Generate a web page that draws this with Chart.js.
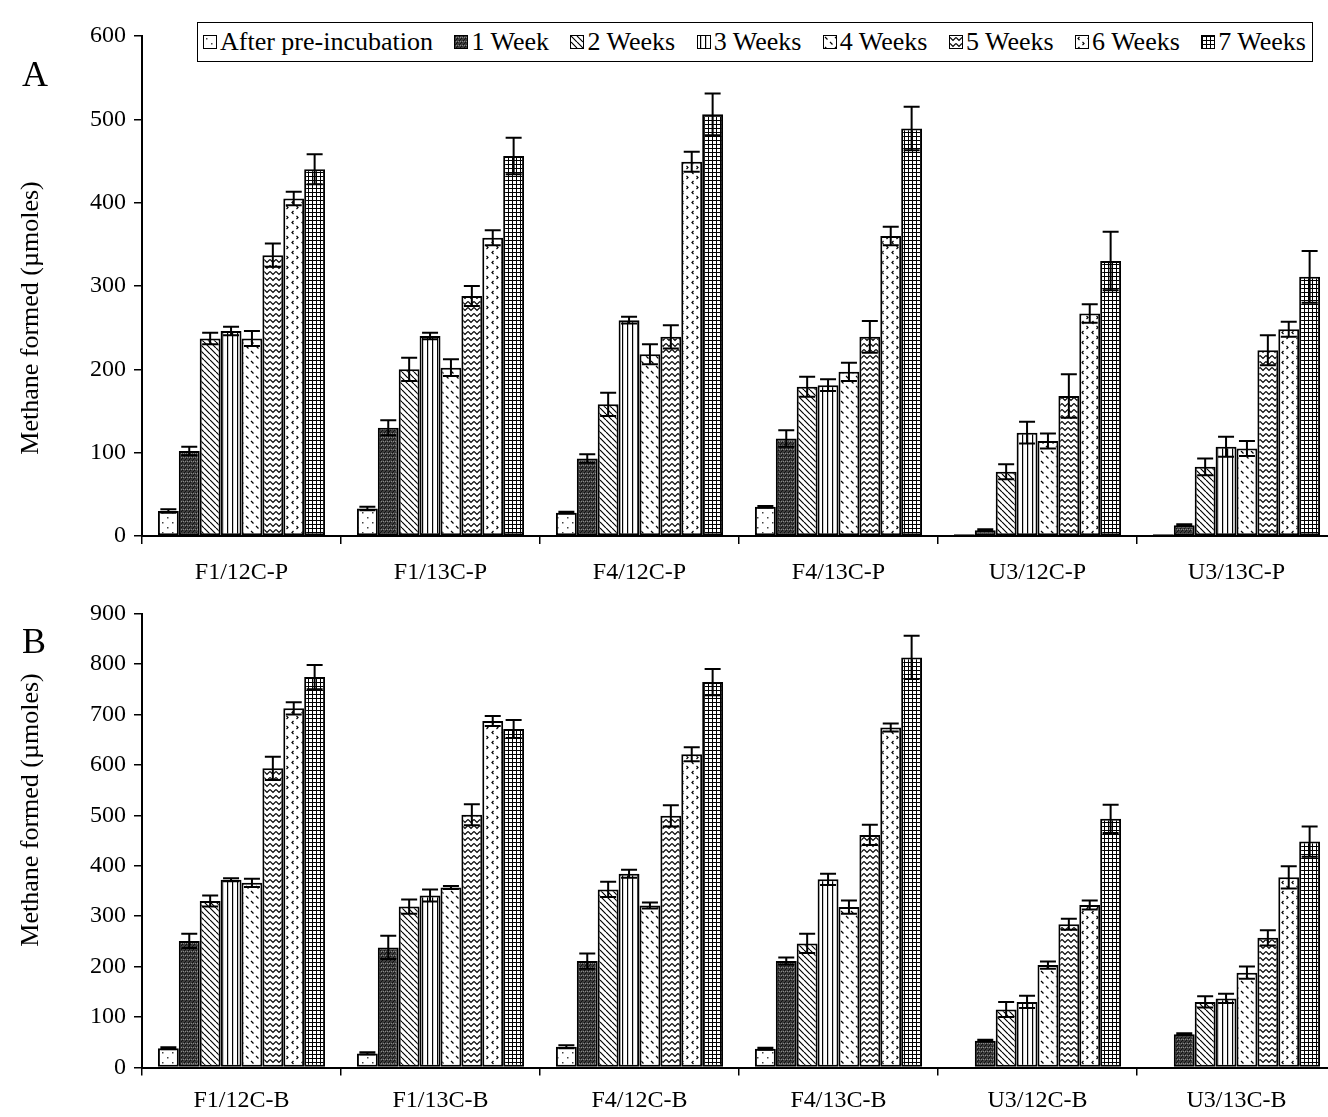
<!DOCTYPE html>
<html><head><meta charset="utf-8">
<script src="https://cdn.jsdelivr.net/npm/chart.js@4.4.1/dist/chart.umd.min.js"></script>
<style>
html,body{margin:0;padding:0;background:#fff;overflow:hidden;width:1328px;height:1117px;}
#wrap{position:relative;width:1328px;height:1117px;overflow:hidden;}
#cA,#cB{position:absolute;left:0;}
#cA{top:0}
#cB{top:590px}
.panel{position:absolute;font-family:"Liberation Serif","Times New Roman",serif;font-size:36px;line-height:1;}
.ytitle{position:absolute;font-family:"Liberation Serif","Times New Roman",serif;font-size:26px;line-height:1;white-space:nowrap;transform:translate(-50%,-50%) rotate(-90deg);}
#legend{position:absolute;left:197px;top:22px;width:1116px;height:40px;box-sizing:border-box;border:1.5px solid #000;background:#fff;display:flex;align-items:center;justify-content:space-between;padding:0 6px 0 5px;font-family:"Liberation Serif","Times New Roman",serif;font-size:26px;white-space:nowrap;z-index:2}
.item{display:flex;align-items:center;}
.item canvas{border:1.5px solid #000;margin-right:3px;}
</style></head><body>
<div id="wrap">
<canvas id="cA" width="1340" height="600"></canvas>
<canvas id="cB" width="1340" height="527"></canvas>
<div class="panel" style="left:22px;top:56px">A</div>
<div class="panel" style="left:22px;top:623px">B</div>
<div class="ytitle" id="tA" style="left:30px;top:318px"></div>
<div class="ytitle" id="tB" style="left:30px;top:810px"></div>
<div id="legend"></div>
</div>
<script>
// ---- data ----
const seriesLabels = ["After pre-incubation","1 Week","2 Weeks","3 Weeks","4 Weeks","5 Weeks","6 Weeks","7 Weeks"];
const categoriesA = ["F1/12C-P","F1/13C-P","F4/12C-P","F4/13C-P","U3/12C-P","U3/13C-P"];
const categoriesB = ["F1/12C-B","F1/13C-B","F4/12C-B","F4/13C-B","U3/12C-B","U3/13C-B"];
const yTitle = "Methane formed (µmoles)";
const yTicksA = {min:0, max:600, step:100};
const yTicksB = {min:0, max:900, step:100};

// Panel A values and errors
const A_afterPre = [30, 33, 28, 35, 2, 2];
const A_week1    = [102, 130, 93, 117, 7, 13];
const A_week2    = [237, 200, 158, 179, 77, 83];
const A_week3    = [246, 240, 259, 181, 124, 107];
const A_week4    = [237, 202, 218, 197, 114, 105];
const A_week5    = [337, 288, 239, 239, 168, 223];
const A_week6    = [405, 358, 449, 360, 267, 248];
const A_week7    = [440, 456, 506, 489, 330, 311];
const A_err_afterPre = [2, 2, 1, 1, 0, 0];
const A_err_week1    = [5, 9, 5, 10, 1, 1];
const A_err_week2    = [7, 14, 14, 12, 9, 10];
const A_err_week3    = [5, 4, 4, 7, 13, 12];
const A_err_week4    = [9, 10, 12, 11, 9, 9];
const A_err_week5    = [14, 12, 14, 19, 26, 18];
const A_err_week6    = [8, 9, 12, 11, 11, 9];
const A_err_week7    = [18, 22, 25, 26, 35, 31];

// Panel B values and errors
const B_afterPre = [38, 28, 41, 37, 0, 0];
const B_week1    = [251, 238, 211, 211, 53, 66];
const B_week2    = [330, 319, 353, 246, 115, 130];
const B_week3    = [372, 341, 384, 373, 130, 137];
const B_week4    = [366, 357, 321, 318, 203, 188];
const B_week5    = [593, 501, 499, 461, 284, 257];
const B_week6    = [712, 687, 621, 674, 322, 377];
const B_week7    = [774, 671, 764, 813, 493, 448];
const B_err_afterPre = [2, 2, 3, 2, 0, 0];
const B_err_week1    = [14, 23, 15, 7, 2, 2];
const B_err_week2    = [11, 14, 15, 19, 15, 11];
const B_err_week3    = [3, 12, 8, 11, 12, 9];
const B_err_week4    = [8, 3, 6, 13, 7, 12];
const B_err_week5    = [23, 21, 21, 20, 11, 15];
const B_err_week6    = [12, 10, 14, 8, 9, 22];
const B_err_week7    = [24, 18, 26, 43, 28, 30];

const seriesA = [A_afterPre,A_week1,A_week2,A_week3,A_week4,A_week5,A_week6,A_week7];
const errorsA = [A_err_afterPre,A_err_week1,A_err_week2,A_err_week3,A_err_week4,A_err_week5,A_err_week6,A_err_week7];
const seriesB = [B_afterPre,B_week1,B_week2,B_week3,B_week4,B_week5,B_week6,B_week7];
const errorsB = [B_err_afterPre,B_err_week1,B_err_week2,B_err_week3,B_err_week4,B_err_week5,B_err_week6,B_err_week7];

document.getElementById('tA').textContent = yTitle;
document.getElementById('tB').textContent = yTitle;

// ---- patterns ----
function makePattern(kind){
  const c=document.createElement('canvas');
  const sizes=[[10,10],[4,4],[6,6],[5,4],[10,10],[6,6],[10,10],[4,4]];
  c.width=sizes[kind][0]; c.height=sizes[kind][1];
  const w=c.width,h=c.height;
  const g=c.getContext('2d');
  g.fillStyle='#fff'; g.fillRect(0,0,w,h);
  g.strokeStyle='#000'; g.fillStyle='#000'; g.lineWidth=1.2;
  switch(kind){
    case 0:
      g.fillStyle='#444'; g.fillRect(2,2,1.5,1.5); g.fillRect(7,7,1.5,1.5); break;
    case 1:
      g.fillStyle='#3c3c3c'; g.fillRect(0,0,w,h);
      g.fillStyle='#111'; g.fillRect(0,0,1,1); g.fillRect(2,2,1,1); g.fillRect(1,3,1,1);
      g.fillStyle='#8a8a8a'; g.fillRect(3,1,1,1); g.fillRect(1,1,1,1); break;
    case 2:
      g.beginPath();
      for(let x=-w;x<=w;x+=w){ g.moveTo(x,0); g.lineTo(x+h,h); }
      g.stroke(); break;
    case 3:
      g.fillRect(2,0,1.2,h); break;
    case 4:
      g.beginPath(); g.moveTo(1,1); g.lineTo(3.5,3.5); g.moveTo(6,6); g.lineTo(8.5,8.5); g.stroke(); break;
    case 5:
      g.beginPath(); g.moveTo(0,1.5); g.lineTo(3,4.5); g.lineTo(6,1.5); g.stroke(); break;
    case 6:
      g.beginPath(); g.moveTo(3.5,1); g.lineTo(2,2.5); g.lineTo(3.5,4);
      g.moveTo(6.5,6); g.lineTo(8,7.5); g.lineTo(6.5,9); g.stroke(); break;
    case 7:
      g.fillRect(0,0,w,1); g.fillRect(0,0,1,h); break;
  }
  return c;
}
const patternTiles = seriesLabels.map((_,i)=>makePattern(i));

// ---- legend (HTML) ----
const leg=document.getElementById('legend');
seriesLabels.forEach((lab,i)=>{
  const it=document.createElement('div'); it.className='item';
  const sw=document.createElement('canvas'); sw.width=12; sw.height=12;
  const sg=sw.getContext('2d'); sg.fillStyle=sg.createPattern(patternTiles[i],'repeat'); sg.fillRect(0,0,12,12);
  const tx=document.createElement('span'); tx.textContent=lab;
  it.appendChild(sw); it.appendChild(tx); leg.appendChild(it);
});

// ---- error bars plugin ----
const errorBars = {
  id:'errorBars',
  afterDatasetsDraw(chart, args, opts){
    const ctx=chart.ctx, y=chart.scales.y;
    ctx.save(); ctx.strokeStyle='#000'; ctx.lineWidth=2;
    chart.data.datasets.forEach((ds,i)=>{
      const meta=chart.getDatasetMeta(i);
      meta.data.forEach((bar,j)=>{
        const e=ds.errors[j]; if(!e) return;
        const v=ds.data[j];
        const x=bar.x, yt=y.getPixelForValue(v+e), yb=y.getPixelForValue(Math.max(0,v-e));
        const hw=opts.capHalf||7;
        ctx.beginPath(); ctx.moveTo(x,yt); ctx.lineTo(x,yb);
        ctx.moveTo(x-hw,yt); ctx.lineTo(x+hw,yt);
        ctx.moveTo(x-hw,yb); ctx.lineTo(x+hw,yb); ctx.stroke();
      });
    });
    ctx.restore();
  }
};

const FONT='Liberation Serif';
function build(id, labels, series, errs, ticks, padTop, xHeight, labelPad){
  const ctx=document.getElementById(id).getContext('2d');
  return new Chart(ctx, {
    type:'bar',
    data:{labels, datasets: series.map((d,i)=>({
      label:seriesLabels[i], data:d, errors:errs[i],
      backgroundColor:ctx.createPattern(patternTiles[i],'repeat'),
      borderColor:'#000', borderWidth:2, borderSkipped:false,
      barPercentage:1, categoryPercentage:0.84}))},
    options:{
      responsive:false, animation:false, devicePixelRatio:1,
      layout:{padding:{top:padTop,left:0,right:4,bottom:0}},
      plugins:{legend:{display:false}, tooltip:{enabled:false}, errorBars:{capHalf:8}},
      scales:{
        x:{
          grid:{offset:true, drawOnChartArea:false, drawTicks:true, tickLength:8, color:'#000', lineWidth:1.5},
          border:{display:true,color:'#000',width:2},
          ticks:{color:'#000', font:{family:FONT,size:24}, padding:labelPad, maxRotation:0, autoSkip:false},
          afterFit(s){ s.height=xHeight; }
        },
        y:{
          min:ticks.min, max:ticks.max,
          ticks:{stepSize:ticks.step, color:'#000', font:{family:FONT,size:24}, padding:8},
          grid:{drawOnChartArea:false, drawTicks:true, tickLength:8, color:'#000', lineWidth:1.5},
          border:{display:true,color:'#000',width:2},
          title:{display:false},
          afterFit(s){ s.width=142; }
        }
      }
    },
    plugins:[errorBars]
  });
}
build('cA', categoriesA, seriesA, errorsA, yTicksA, 36, 64, 14);
build('cB', categoriesB, seriesB, errorsB, yTicksB, 23.5, 49.5, 11);
</script>
</body></html>
